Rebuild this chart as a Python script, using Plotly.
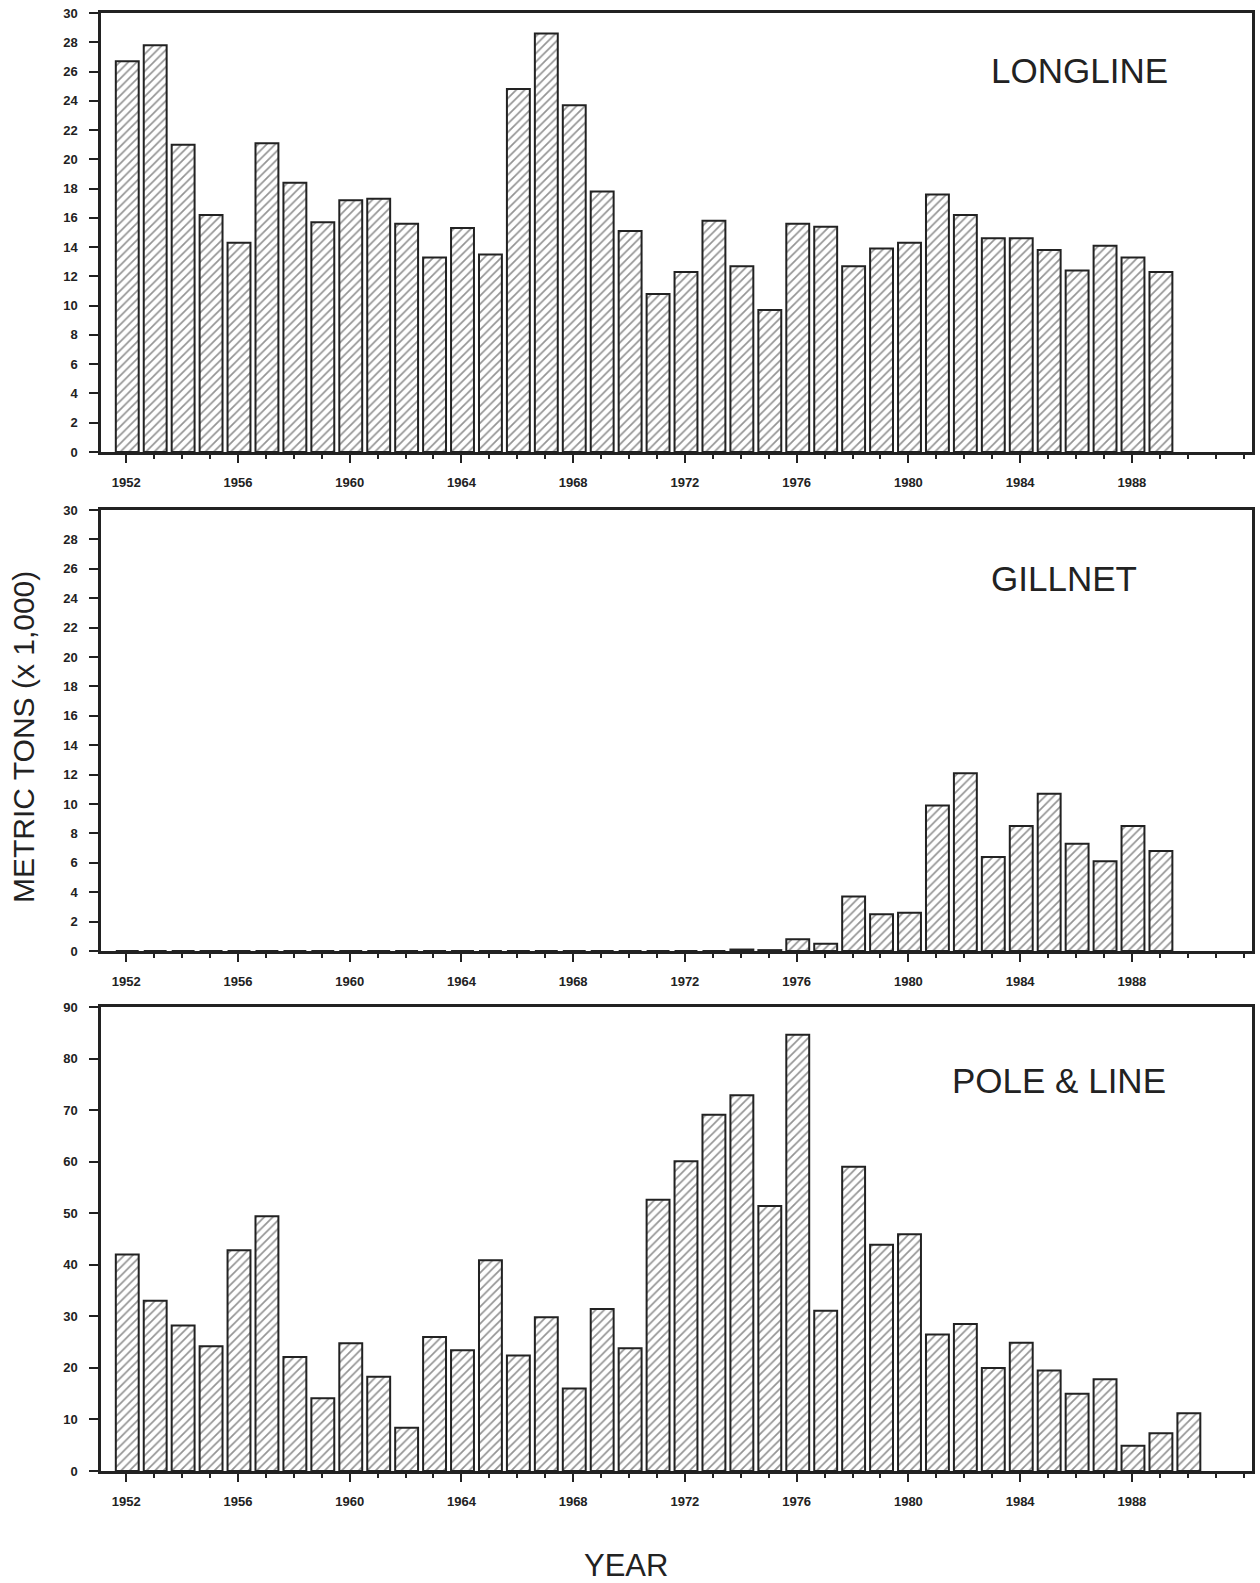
import plotly.graph_objects as go
from plotly.subplots import make_subplots

years_ll = list(range(1952, 1990))
longline = [26.7, 27.8, 21.0, 16.2, 14.3, 21.1, 18.4, 15.7, 17.2, 17.3,
            15.6, 13.3, 15.3, 13.5, 24.8, 28.6, 23.7, 17.8, 15.1, 10.8,
            12.3, 15.8, 12.7, 9.7, 15.6, 15.4, 12.7, 13.9, 14.3, 17.6,
            16.2, 14.6, 14.6, 13.8, 12.4, 14.1, 13.3, 12.3]

years_gn = list(range(1952, 1990))
gillnet = [0]*22 + [0.1, 0.06, 0.8, 0.5, 3.7, 2.5, 2.6, 9.9,
                    12.1, 6.4, 8.5, 10.7, 7.3, 6.1, 8.5, 6.8]

years_pl = list(range(1952, 1991))
pole_line = [42.0, 33.0, 28.2, 24.2, 42.8, 49.4, 22.1, 14.1, 24.8, 18.3,
             8.4, 26.0, 23.4, 40.9, 22.4, 29.8, 16.0, 31.4, 23.8, 52.6,
             60.1, 69.1, 72.9, 51.4, 84.6, 31.1, 59.0, 43.9, 45.9, 26.5,
             28.5, 20.0, 24.9, 19.5, 15.0, 17.8, 4.9, 7.3, 11.2]

x_tick_years = [1952, 1956, 1960, 1964, 1968, 1972, 1976, 1980, 1984, 1988]
panel_names = ["LONGLINE", "GILLNET", "POLE & LINE"]

W, H = 1260, 1583
ML, MR, MT = 101, 8, 13
MB = H - 1471
PW, PH = W - ML - MR, H - MT - MB

fig = make_subplots(rows=3, cols=1, vertical_spacing=0.04)

def bar(x, y):
    return go.Bar(
        x=x, y=y, width=0.82, offset=-0.37,
        marker=dict(color="white",
                    line=dict(color="#222", width=2),
                    pattern=dict(shape="/", fgcolor="#2a2a2a", bgcolor="white",
                                 size=6, solidity=0.28)),
        showlegend=False, hoverinfo="skip")

fig.add_trace(bar(years_ll, longline), row=1, col=1)
fig.add_trace(bar(years_gn, gillnet), row=2, col=1)
fig.add_trace(bar(years_pl, pole_line), row=3, col=1)

panel_px = [(13, 452), (510, 951), (1007, 1471)]
yranges = [(0, 30, 2), (0, 30, 2), (0, 90, 10)]
tickfont = dict(family="Liberation Sans, Arial", size=13, color="#222",
                weight="bold")

def py(p):
    return (H - p - MB) / PH

def pxx(p):
    return (p - ML) / PW

for i in range(3):
    xa = "xaxis" if i == 0 else f"xaxis{i+1}"
    ya = "yaxis" if i == 0 else f"yaxis{i+1}"
    lo, hi, dt = yranges[i]
    top, bot = panel_px[i]
    fig.layout[ya].update(
        domain=[max(0, py(bot)), min(1, py(top))], range=[lo, hi],
        dtick=dt, tick0=0, automargin=False,
        showline=True, linecolor="#222", linewidth=2.5, mirror=True,
        ticks="outside", ticklen=9, tickwidth=2, tickcolor="#222",
        ticklabelstandoff=9,
        showgrid=False, zeroline=False, tickfont=tickfont)
    fig.layout[xa].update(
        range=[1951.1, 1992.3], tickvals=x_tick_years, automargin=False,
        showline=True, linecolor="#222", linewidth=2.5, mirror=True,
        ticks="outside", ticklen=8, tickwidth=2, tickcolor="#222",
        ticklabelstandoff=9,
        minor=dict(dtick=1, tick0=1952, ticks="outside", ticklen=4,
                   tickwidth=1.5, tickcolor="#222"),
        showgrid=False, zeroline=False, tickfont=tickfont)

label_pos = [(1079, 71), (1064, 578), (1059, 1080)]
for name, (lx, ly) in zip(panel_names, label_pos):
    fig.add_annotation(
        text=name, xref="paper", yref="paper", x=pxx(lx), y=py(ly),
        showarrow=False, xanchor="center", yanchor="middle",
        font=dict(family="Liberation Sans, Arial", size=35, color="#222"))

fig.add_annotation(
    text="METRIC TONS (x 1,000)", xref="paper", yref="paper",
    x=pxx(23), y=py(737),
    textangle=-90, showarrow=False, xanchor="center", yanchor="middle",
    font=dict(family="Liberation Sans, Arial", size=30, color="#222"))

fig.add_annotation(
    text="YEAR", xref="paper", yref="paper",
    x=pxx(626), y=py(1565),
    showarrow=False, xanchor="center", yanchor="middle",
    font=dict(family="Liberation Sans, Arial", size=31, color="#222"))

fig.update_layout(
    width=W, height=H,
    margin=dict(l=ML, r=MR, t=MT, b=MB),
    paper_bgcolor="white", plot_bgcolor="white",
    hovermode=False)

fig.write_html(
    "out.html",
    config={"displayModeBar": False},
    post_script="document.body.style.margin='0';"
                "document.body.style.overflow='hidden';"
                "document.documentElement.style.overflow='hidden';")
